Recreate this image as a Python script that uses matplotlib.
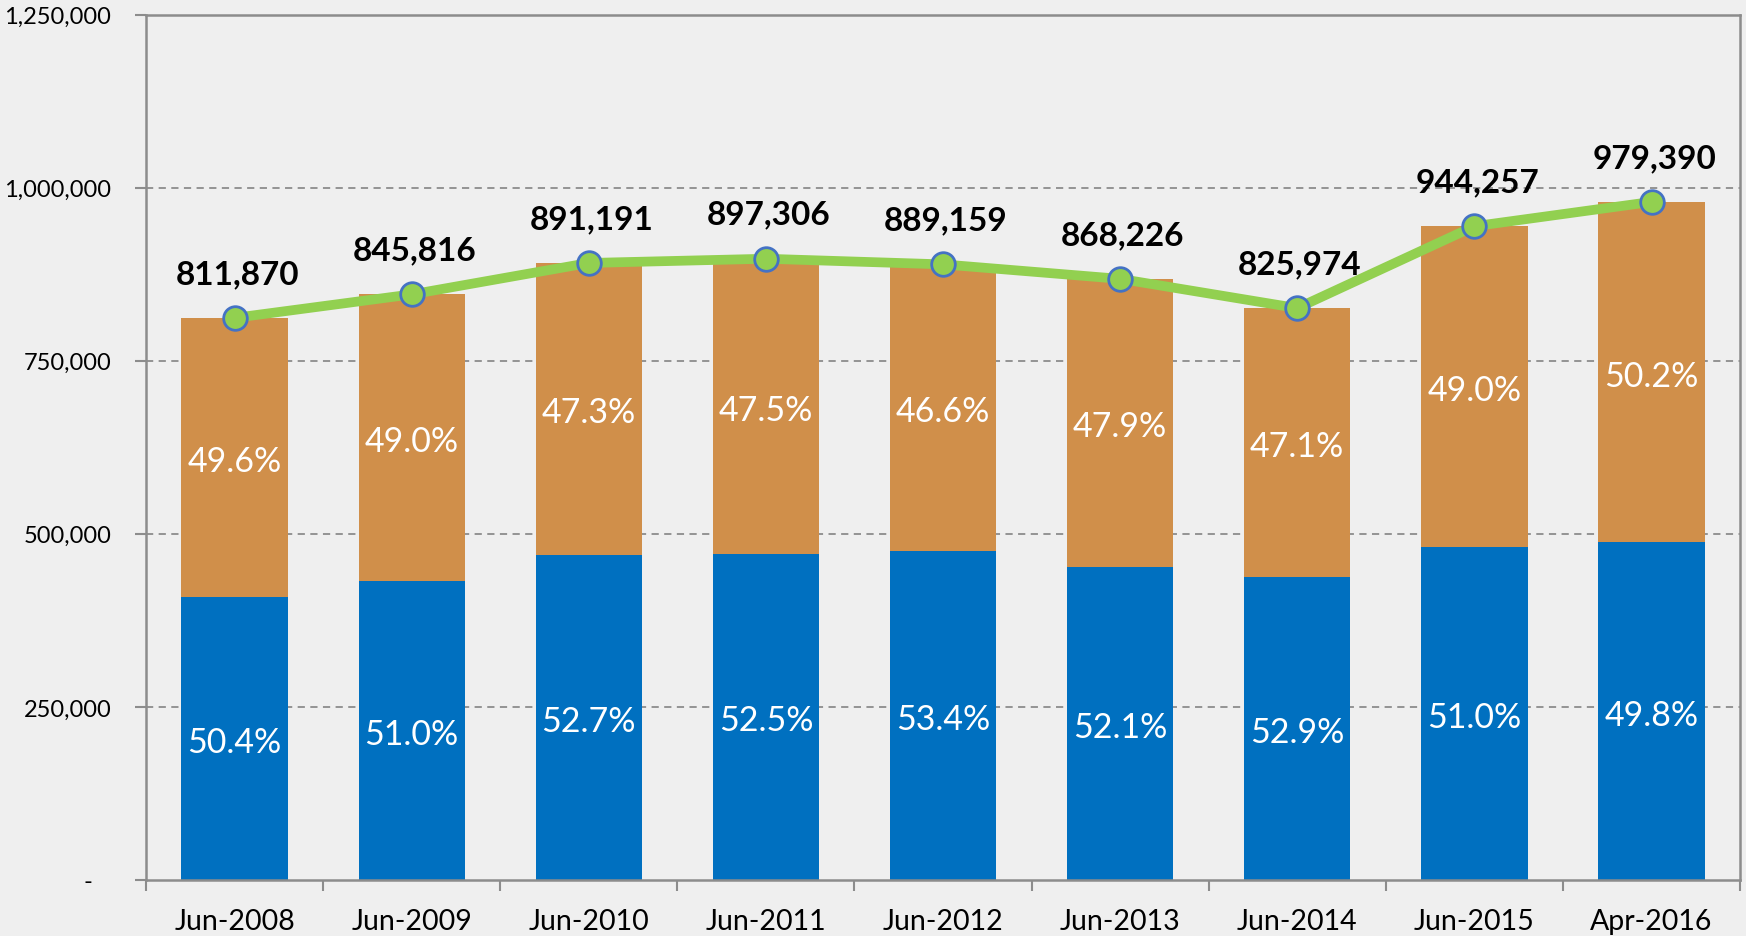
import matplotlib
matplotlib.use("Agg")
import matplotlib.pyplot as plt
import numpy as np

categories = ["Jun-2008", "Jun-2009", "Jun-2010", "Jun-2011", "Jun-2012",
              "Jun-2013", "Jun-2014", "Jun-2015", "Apr-2016"]
totals = [811870, 845816, 891191, 897306, 889159, 868226, 825974, 944257, 979390]
blue_pct = [50.4, 51.0, 52.7, 52.5, 53.4, 52.1, 52.9, 51.0, 49.8]
orange_pct = [49.6, 49.0, 47.3, 47.5, 46.6, 47.9, 47.1, 49.0, 50.2]
yticks = [0, 250000, 500000, 750000, 1000000, 1250000]
ytick_labels = ["-   ", "250,000", "500,000", "750,000", "1,000,000", "1,250,000"]

plt.rcParams['font.family'] = ['Lato', 'DejaVu Sans']

BLUE = "#0070C0"
ORANGE = "#D08F4A"
GREEN = "#92D050"
EDGE = "#4472C4"
BG = "#EFEFEF"
GRID = "#8C8C8C"

fig = plt.figure(figsize=(17.46, 9.37), dpi=100, facecolor=BG)
ax = fig.add_axes([0.0836, 0.0598, 0.9130, 0.9236])
ax.set_facecolor(BG)

x = np.arange(len(categories))
tot = np.array(totals, dtype=float)
blue_vals = tot * np.array(blue_pct) / 100.0
orange_vals = tot - blue_vals

ax.bar(x, blue_vals, width=0.6, color=BLUE, zorder=2)
ax.bar(x, orange_vals, width=0.6, bottom=blue_vals, color=ORANGE, zorder=2)

for i in range(len(x)):
    ax.annotate(f"{blue_pct[i]:.1f}%", (x[i], blue_vals[i] / 2), xytext=(0, -2.5),
                textcoords="offset points", ha="center", va="center",
                color="white", fontsize=24.5, zorder=4)
    ax.annotate(f"{orange_pct[i]:.1f}%", (x[i], blue_vals[i] + orange_vals[i] / 2),
                xytext=(0, -2.5), textcoords="offset points", ha="center",
                va="center", color="white", fontsize=24.5, zorder=4)

ax.plot(x, tot, color=GREEN, lw=7, marker="o", markersize=17,
        markerfacecolor=GREEN, markeredgecolor=EDGE, markeredgewidth=2, zorder=5,
        solid_capstyle="round")
for i in range(len(x)):
    ax.annotate(f"{totals[i]:,}", (x[i], tot[i]), xytext=(2, 32), textcoords="offset points",
                ha="center", va="center", fontsize=24, fontweight="bold", color="black", zorder=6)

ax.set_xlim(-0.5, len(categories) - 0.5)
ax.set_ylim(0, 1250000)
ax.set_yticks(yticks)
ax.set_yticklabels(ytick_labels, fontsize=17)
ax.set_xticks(x)
ax.set_xticklabels(categories, fontsize=20.5)
ax.set_xticks(np.arange(-0.5, len(categories)), minor=True)
ax.tick_params(axis="x", which="major", length=0, pad=20)
ax.tick_params(axis="x", which="minor", length=8, width=1.5, color=GRID, direction="out")
ax.tick_params(axis="y", length=8, width=1.5, color=GRID, pad=17)

for yv in yticks[1:-1]:
    ax.axhline(yv, color=GRID, lw=1.3, ls=(0, (4, 3)), zorder=1)

for s in ["left", "bottom", "top", "right"]:
    ax.spines[s].set_color(GRID)
    ax.spines[s].set_linewidth(1.8)

fig.savefig("out.png", dpi=100, facecolor=BG)
